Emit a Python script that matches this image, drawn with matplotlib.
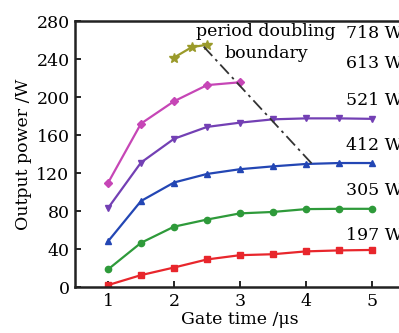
import matplotlib.pyplot as plt

# Data
t_full = [1, 1.5, 2, 2.5, 3, 3.5, 4, 4.5, 5]
p_197 = [2, 12.5, 20.5, 29, 33.5, 34.5, 37.5, 38.5, 39]
p_305 = [18.5, 46.5, 63.5, 71, 77.5, 79, 82, 82.3, 82.3]
p_412 = [48, 90.5, 110, 119, 124, 127, 129.5, 130.5, 130.5]
p_521 = [83, 131, 156, 168.5, 173, 176.5, 177.5, 177.5, 177]

t_613 = [1, 1.5, 2, 2.5, 3]
p_613 = [109.5, 172, 195.5, 212.5, 215.5]

t_718 = [2, 2.27, 2.5]
p_718 = [241.5, 252.5, 255]

bound_t = [2.45, 4.1]
bound_p = [253, 129]

series = [
    (t_full, p_197, '#e8262c', 's', '197 W', 236),
    (t_full, p_305, '#2e9a3a', 'o', '305 W', 191),
    (t_full, p_412, '#2346b4', '^', '412 W', 145),
    (t_full, p_521, '#7340b4', 'v', '521 W', 101),
    (t_613, p_613, '#c646b6', 'D', '613 W', 63),
    (t_718, p_718, '#9a9a2a', '*', '718 W', 33),
]

plt.rcParams['font.family'] = ['DejaVu Serif']
plt.rcParams['mathtext.fontset'] = 'dejavuserif'

fig = plt.figure(figsize=(3.99, 3.33), dpi=100)
ax = fig.add_axes([75 / 399, 46 / 333, 330 / 399, 266 / 333])

for t, p, c, m, lab, ypix in series:
    ms = 7 if m == '*' else 4.5
    ax.plot(t, p, color=c, marker=m, markersize=ms, linewidth=1.6)
    fig.text(346 / 399, 1 - ypix / 333, lab, fontsize=12.5, va='center', ha='left')

ax.plot(bound_t, bound_p, color='#333333', linestyle=(0, (7, 2.5, 1.5, 2.5)), linewidth=1.3)

ax.text(266 / 399, 1 - 32 / 333, 'period doubling', transform=fig.transFigure,
        fontsize=12.5, ha='center', va='center')
ax.text(266 / 399, 1 - 53 / 333, 'boundary', transform=fig.transFigure,
        fontsize=12.5, ha='center', va='center')

ax.set_xlim(0.5, 5.5)
ax.set_ylim(0, 280)
ax.set_xticks([1, 2, 3, 4, 5])
ax.set_yticks(range(0, 281, 40))
ax.tick_params(direction='in', length=4, width=1.2, labelsize=12.5, pad=4)
for s in ax.spines.values():
    s.set_linewidth(1.8)
    s.set_color('#222222')

ax.set_xlabel('Gate time /μs', fontsize=12.5, labelpad=1)
ax.set_ylabel('Output power /W', fontsize=12.5, labelpad=3)

fig.savefig('out.png', dpi=100)
